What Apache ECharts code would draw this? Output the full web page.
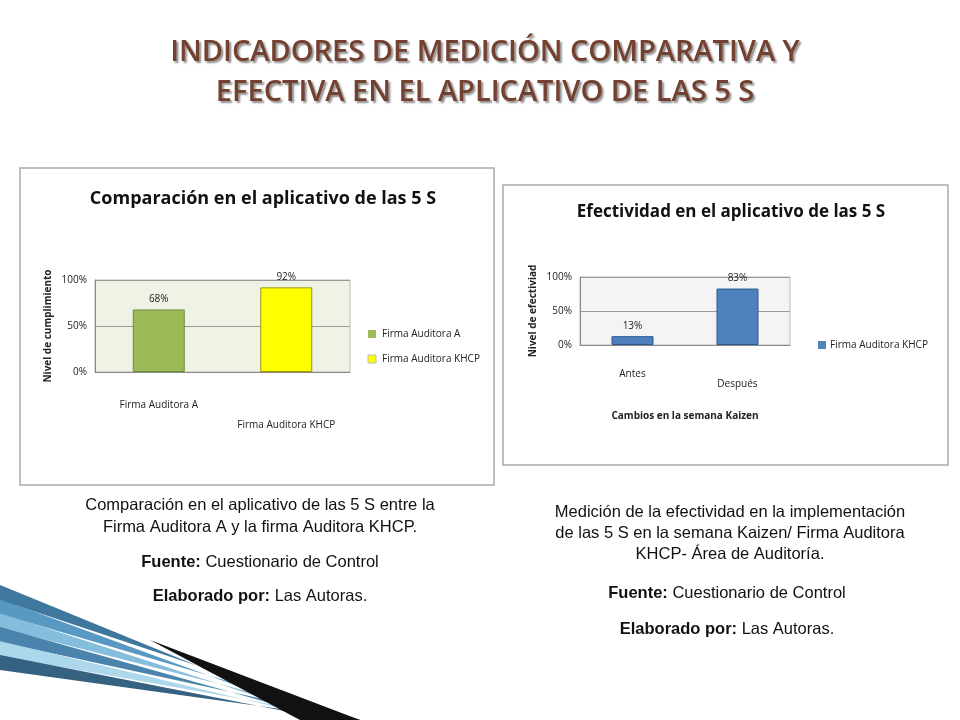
<!DOCTYPE html>
<html><head><meta charset="utf-8">
<script src="https://cdn.jsdelivr.net/npm/echarts@6/dist/echarts.min.js"></script>
<style>html,body{margin:0;padding:0;background:#fff}#c{width:960px;height:720px}</style>
</head><body><div id="c"></div>
<script>
const leftCategories = ['Firma Auditora A', 'Firma Auditora KHCP'];
const leftSeriesA = [68, '-'];
const leftSeriesKHCP = ['-', 92];
const rightCategories = ['Antes', 'Después'];
const rightSeriesKHCP = [13, 83];
const yTicks = [0, 50, 100];

const chart = echarts.init(document.getElementById('c'));
const F = 'Liberation Sans, Arial, sans-serif';
const C = 'Open Sans, DejaVu Sans, sans-serif';
const pct = v => v + '%';
const FS = 16.5;
function yAx(grid, name) {
  return { gridIndex: grid, type: 'value', min: 0, max: 100, interval: 50, name: name,
    nameLocation: 'middle', nameGap: 42, nameTextStyle: { fontFamily: C, fontSize: 10, fontWeight: 'bold', color: '#222' },
    axisLabel: { formatter: pct, fontFamily: C, fontSize: 10, color: '#222' },
    axisLine: { show: true, lineStyle: { color: '#888' } }, splitLine: { lineStyle: { color: '#999' } } };
}
const stripes = [];
const blues = ['#1f5f8b', '#3b87b8', '#6fb3d6', '#2a6f9e', '#9fd0e8', '#13466b'];
for (let i = 0; i < 6; i++) {
  stripes.push({ type: 'polygon', shape: { points: [[0, 585 + i * 14], [0, 600 + i * 14], [360, 720], [330, 720]] }, style: { fill: blues[i], opacity: 0.85 } });
}
stripes.push({ type: 'polygon', shape: { points: [[150, 640], [360, 720], [300, 720]] }, style: { fill: '#111' } });
function cap(x, y, text, lh) {
  return { type: 'text', style: { x: x, y: y, align: 'center', verticalAlign: 'middle', lineHeight: lh || 22, fontFamily: F, fontSize: FS, fill: '#111',
    text: text, rich: { b: { fontWeight: 'bold', fontFamily: F, fontSize: FS } } } };
}

chart.setOption({
  animation: false,
  title: [
    { text: 'INDICADORES DE MEDICIÓN COMPARATIVA Y\nEFECTIVA EN EL APLICATIVO DE LAS 5 S', left: 480, top: 28, textAlign: 'center',
      textStyle: { fontFamily: C, fontSize: 29, fontWeight: 600, color: '#74402f', lineHeight: 40, textShadowColor: 'rgba(0,0,0,0.45)', textShadowBlur: 2, textShadowOffsetX: 2, textShadowOffsetY: 2 } },
    { text: 'Comparación en el aplicativo de las 5 S', left: 258, top: 185, textAlign: 'center', textStyle: { fontFamily: C, fontSize: 18, fontWeight: 'bold', color: '#111' } },
    { text: 'Efectividad en el aplicativo de las 5 S', left: 726, top: 199, textAlign: 'center', textStyle: { fontFamily: C, fontSize: 17, fontWeight: 'bold', color: '#111' } }
  ],
  graphic: [
    { type: 'rect', shape: { x: 20, y: 168, width: 474, height: 317 }, style: { fill: 'none', stroke: '#aaa', lineWidth: 1.5 }, z: -1 },
    { type: 'rect', shape: { x: 503, y: 185, width: 445, height: 280 }, style: { fill: 'none', stroke: '#aaa', lineWidth: 1.5 }, z: -1 },
    { type: 'rect', shape: { x: 368, y: 330, width: 8, height: 8 }, style: { fill: '#9bbb59' } },
    { type: 'text', style: { x: 382, y: 334, text: 'Firma Auditora A', fontFamily: C, fontSize: 10, fill: '#222', verticalAlign: 'middle' } },
    { type: 'rect', shape: { x: 368, y: 355, width: 8, height: 8 }, style: { fill: '#ffff00', stroke: '#bbb' } },
    { type: 'text', style: { x: 382, y: 359, text: 'Firma Auditora KHCP', fontFamily: C, fontSize: 10, fill: '#222', verticalAlign: 'middle' } },
    { type: 'rect', shape: { x: 818, y: 341, width: 8, height: 8 }, style: { fill: '#4f81bd' } },
    { type: 'text', style: { x: 830, y: 345, text: 'Firma Auditora KHCP', fontFamily: C, fontSize: 10, fill: '#222', verticalAlign: 'middle' } },
    cap(260, 516, 'Comparación en el aplicativo de las 5 S entre la\nFirma Auditora A y la firma Auditora KHCP.'),
    cap(260, 562, '{b|Fuente:} Cuestionario de Control'),
    cap(260, 596, '{b|Elaborado por:} Las Autoras.'),
    cap(730, 533, 'Medición de la efectividad en la implementación\nde las 5 S en la semana Kaizen/ Firma Auditora\nKHCP- Área de Auditoría.', 21),
    cap(727, 593, '{b|Fuente:} Cuestionario de Control'),
    cap(727, 629, '{b|Elaborado por:} Las Autoras.')
  ].concat(stripes),
  grid: [
    { left: 95, right: 610, top: 280, bottom: 348, show: true, backgroundColor: '#eef3e6', borderColor: '#bbb' },
    { left: 580, right: 170, top: 277, bottom: 375, show: true, backgroundColor: '#f4f4f4', borderColor: '#bbb' }
  ],
  xAxis: [
    { gridIndex: 0, type: 'category', data: leftCategories, axisTick: { show: false }, axisLine: { lineStyle: { color: '#888' } },
      axisLabel: { interval: 0, margin: 28, fontFamily: C, fontSize: 10, color: '#222', formatter: (v, i) => i === 1 ? '\n\n' + v : v } },
    { gridIndex: 1, type: 'category', data: rightCategories, axisTick: { show: false }, axisLine: { lineStyle: { color: '#888' } },
      axisLabel: { interval: 0, margin: 24, fontFamily: C, fontSize: 10, color: '#222', formatter: (v, i) => i === 1 ? '\n' + v : v },
      name: 'Cambios en la semana Kaizen', nameLocation: 'middle', nameGap: 66, nameTextStyle: { fontFamily: C, fontSize: 10, fontWeight: 'bold', color: '#222' } }
  ],
  yAxis: [yAx(0, 'Nivel de cumplimiento'), yAx(1, 'Nivel de efectiviad')],
  series: [
    { type: 'bar', xAxisIndex: 0, yAxisIndex: 0, data: leftSeriesA, barWidth: 52, barGap: '-100%',
      itemStyle: { color: '#9bbb59', borderColor: '#6f8a3c', borderWidth: 1 },
      label: { show: true, position: 'top', formatter: p => p.value + '%', fontFamily: C, fontSize: 10, color: '#222' } },
    { type: 'bar', xAxisIndex: 0, yAxisIndex: 0, data: leftSeriesKHCP, barWidth: 52,
      itemStyle: { color: '#ffff00', borderColor: '#999900', borderWidth: 1 },
      label: { show: true, position: 'top', formatter: p => p.value + '%', fontFamily: C, fontSize: 10, color: '#222' } },
    { type: 'bar', xAxisIndex: 1, yAxisIndex: 1, data: rightSeriesKHCP, barWidth: 42,
      itemStyle: { color: '#4f81bd', borderColor: '#2c5a8f', borderWidth: 1 },
      label: { show: true, position: 'top', formatter: p => p.value + '%', fontFamily: C, fontSize: 10, color: '#222' } }
  ]
});
</script></body></html>
